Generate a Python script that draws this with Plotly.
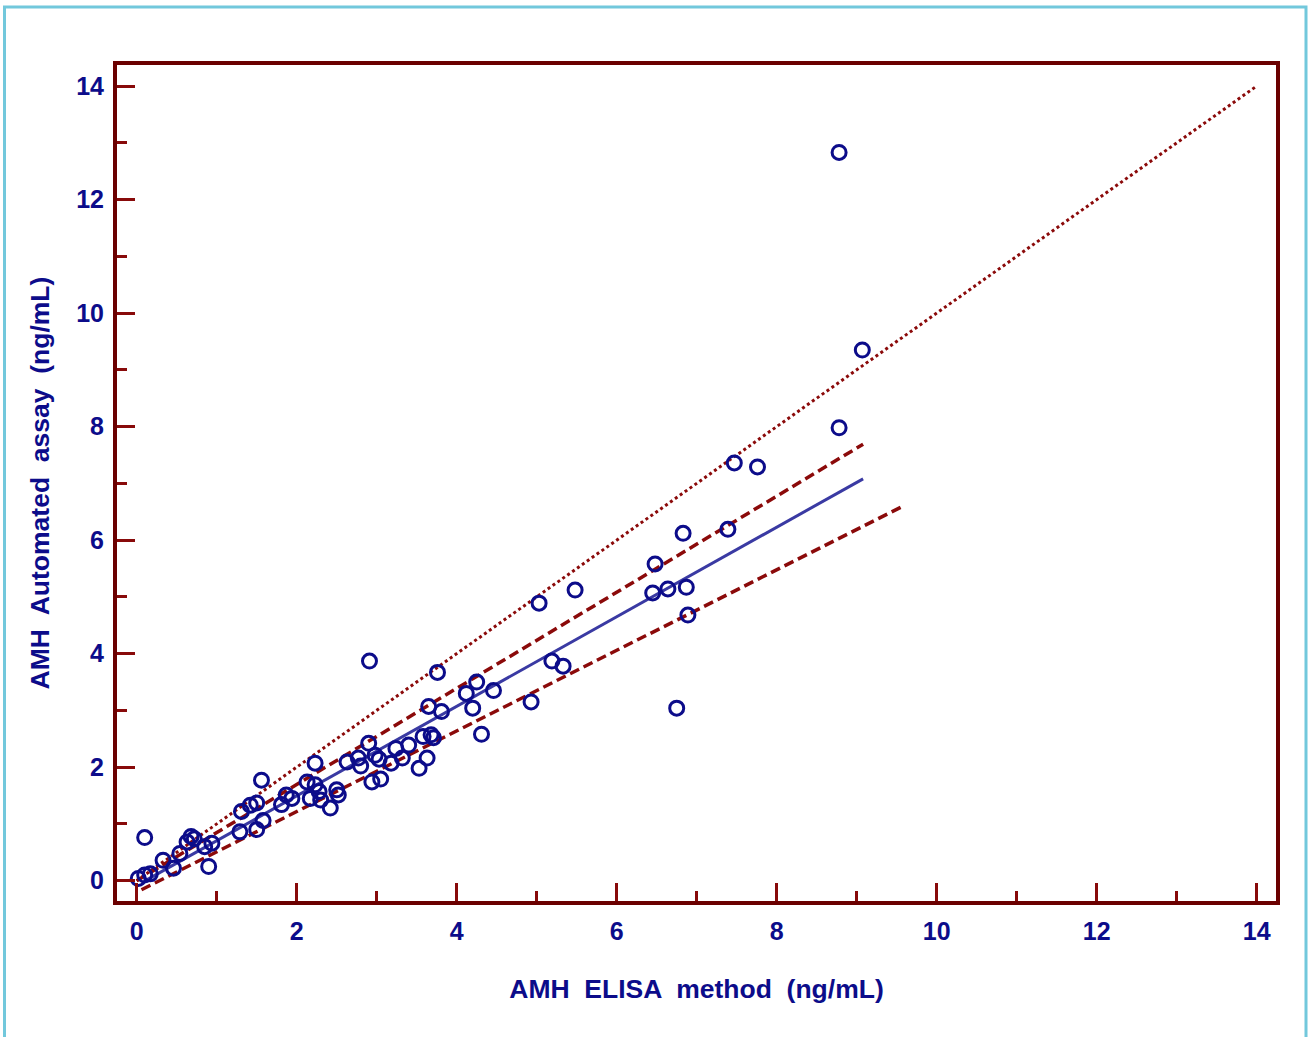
import plotly.graph_objects as go

# ---- data ----
elisa = [0.02, 0.10, 0.17, 0.10, 0.33, 0.46, 0.54, 0.63, 0.68, 0.72, 0.85, 0.90, 0.94,
         1.31, 1.42, 1.50, 1.29, 1.50, 1.58, 1.56, 1.81, 1.87, 1.94, 2.13, 2.23, 2.23,
         2.17, 2.28, 2.30, 2.42, 2.52, 2.50, 2.63, 2.77, 2.80, 2.90, 2.94, 3.05, 2.98,
         3.03, 3.18, 3.24, 3.32, 3.40, 3.53, 3.63, 3.58, 3.68, 3.71, 3.65, 3.81, 2.91,
         3.76, 4.12, 4.25, 4.46, 4.20, 4.31, 4.93, 5.03, 5.19, 5.33, 5.48, 6.48, 6.45,
         6.64, 6.87, 6.89, 6.75, 6.83, 7.39, 7.47, 7.76, 8.78, 9.07, 8.78]
automated = [0.04, 0.10, 0.12, 0.76, 0.36, 0.22, 0.48, 0.68, 0.78, 0.74, 0.60, 0.25, 0.66,
             1.22, 1.33, 1.37, 0.86, 0.90, 1.06, 1.77, 1.34, 1.51, 1.45, 1.74, 2.07, 1.69,
             1.45, 1.57, 1.42, 1.28, 1.51, 1.60, 2.09, 2.16, 2.02, 2.42, 1.74, 1.79, 2.21,
             2.14, 2.07, 2.33, 2.16, 2.39, 1.98, 2.16, 2.54, 2.57, 2.52, 3.07, 2.98, 3.87,
             3.67, 3.30, 3.50, 3.35, 3.04, 2.58, 3.15, 4.89, 3.87, 3.78, 5.12, 5.58, 5.07,
             5.14, 5.17, 4.68, 3.04, 6.12, 6.19, 7.36, 7.29, 7.98, 9.35, 12.83]

identity_x = [0, 14]
identity_y = [0, 14]
reg_x = [0.12, 9.08]
reg_y = [0.01, 7.08]
ci_upper_x = [0.0, 9.08]
ci_upper_y = [0.0, 7.69]
ci_lower_x = [0.06, 9.58]
ci_lower_y = [-0.16, 6.60]

x_ticks = [0, 2, 4, 6, 8, 10, 12, 14]
y_ticks = [0, 2, 4, 6, 8, 10, 12, 14]

NAVY = "#0c0c8a"
FRAME = "#6b0000"
TICK = "#880a0a"
LINE_RED = "#8b0a0a"
FONT = "Liberation Sans, Arial, sans-serif"

fig = go.Figure()
fig.add_trace(go.Scatter(x=identity_x, y=identity_y, mode="lines",
                         line=dict(color=LINE_RED, width=3, dash="dot"), hoverinfo="skip"))
fig.add_trace(go.Scatter(x=ci_upper_x, y=ci_upper_y, mode="lines",
                         line=dict(color=LINE_RED, width=3.5, dash="10px,5px"), hoverinfo="skip"))
fig.add_trace(go.Scatter(x=ci_lower_x, y=ci_lower_y, mode="lines",
                         line=dict(color=LINE_RED, width=3.5, dash="10px,5px"), hoverinfo="skip"))
fig.add_trace(go.Scatter(x=reg_x, y=reg_y, mode="lines",
                         line=dict(color="#3a3aa3", width=3), hoverinfo="skip"))
fig.add_trace(go.Scatter(x=elisa, y=automated, mode="markers",
                         marker=dict(symbol="circle-open", size=14, color=NAVY,
                                     line=dict(width=3, color=NAVY))))

L, R, T, B = 117, 1276, 65, 901
W, H = R - L, B - T

axis_common = dict(
    showgrid=False, zeroline=False,
    showline=True, linecolor=FRAME, linewidth=4, mirror=True,
    ticks="inside", ticklen=18, tickwidth=3, tickcolor=TICK,
    minor=dict(ticks="inside", ticklen=10, tickwidth=3, tickcolor=TICK, dtick=1, tick0=0),
    tickfont=dict(family=FONT, size=25, color=NAVY, weight="bold"),
)

fig.update_layout(
    width=1312, height=1037,
    margin=dict(l=L, r=1312 - R, t=T, b=1037 - B),
    paper_bgcolor="white", plot_bgcolor="white",
    showlegend=False,
    xaxis=dict(range=[-0.246, 14.241], tickvals=x_ticks, ticklabelstandoff=5,
               title=dict(text="AMH  ELISA  method  (ng/mL)", standoff=36,
                          font=dict(family=FONT, size=26.5, color=NAVY, weight="bold")),
               **axis_common),
    yaxis=dict(range=[-0.358, 14.371], tickvals=y_ticks, ticklabelstandoff=4,
               title=dict(text="AMH  Automated  assay  (ng/mL)", standoff=20,
                          font=dict(family=FONT, size=26.5, color=NAVY, weight="bold")),
               **axis_common),
    shapes=[dict(type="rect", xref="paper", yref="paper",
                 x0=(4.5 - L) / W, x1=(1306 - L) / W,
                 y0=(B - 1045) / H, y1=(B - 7) / H,
                 line=dict(color="#72c8dc", width=3), fillcolor="rgba(0,0,0,0)", layer="below")],
)

fig.write_html("out.html", config={"displayModeBar": False},
               post_script="document.body.style.margin='0';document.body.style.overflow='hidden';")
